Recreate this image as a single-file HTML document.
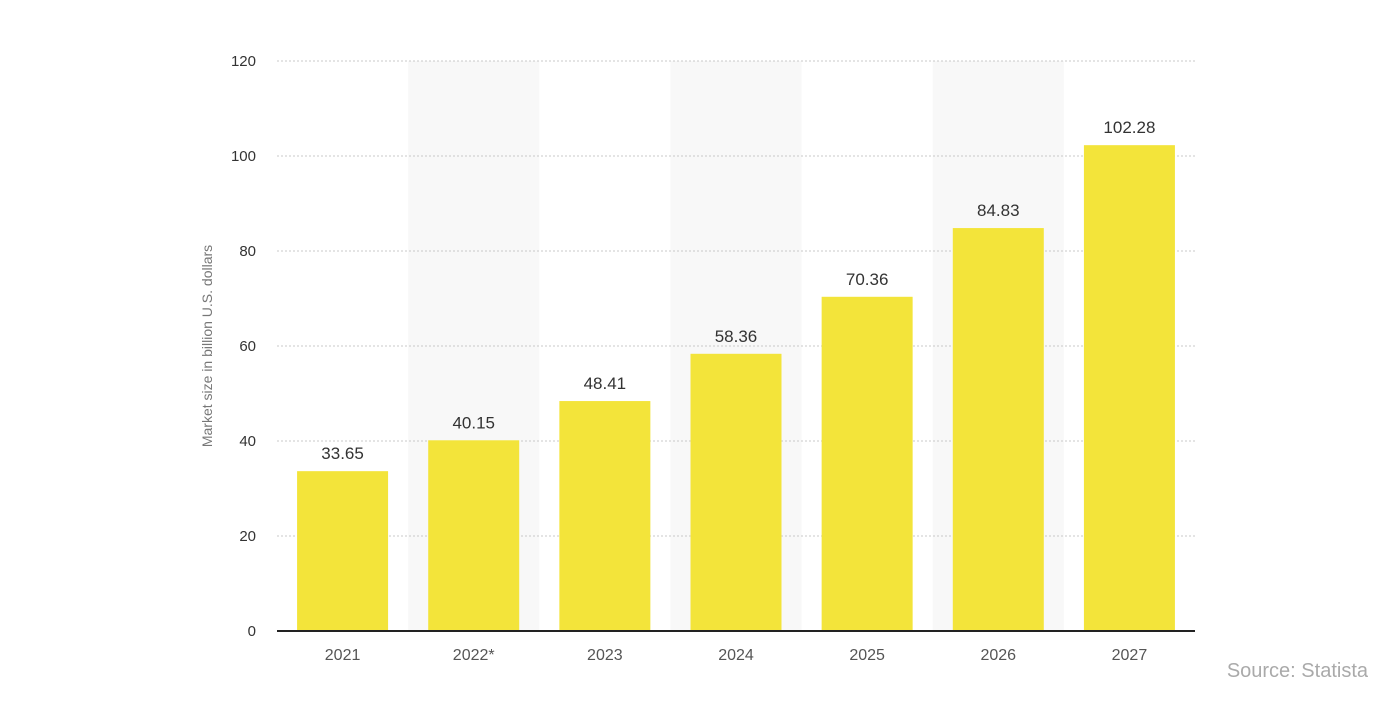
<!DOCTYPE html>
<html><head><meta charset="utf-8"><style>
body{margin:0;width:1400px;height:700px;background:#fff;overflow:hidden;font-family:"Liberation Sans",sans-serif}
</style></head><body>
<svg id="chart" width="1400" height="700" xmlns="http://www.w3.org/2000/svg">
<g id="bands"></g><g id="grid"></g><g id="bars"></g><g id="labels"></g>
<text transform="translate(212,346) rotate(-90)" text-anchor="middle" font-size="14" fill="#777">Market size in billion U.S. dollars</text>
<text x="1368" y="677" text-anchor="end" font-size="20" fill="#aaa">Source: Statista</text>
</svg>
<script>
const categories=["2021","2022*","2023","2024","2025","2026","2027"];
const values=[33.65,40.15,48.41,58.36,70.36,84.83,102.28];
const valueLabels=["33.65","40.15","48.41","58.36","70.36","84.83","102.28"];
const yTicks=[0,20,40,60,80,100,120];
const NS="http://www.w3.org/2000/svg";
const x0=277,x1=1195,yb=631,yt=61,ymax=120;
const band=(x1-x0)/categories.length;
const y=v=>yb-(v/ymax)*(yb-yt);
const xc=i=>x0+band*(i+0.5);
function mk(tag,attrs,parent,txt){const e=document.createElementNS(NS,tag);for(const k in attrs)e.setAttribute(k,attrs[k]);if(txt!==undefined)e.textContent=txt;document.getElementById(parent).appendChild(e);return e;}
categories.forEach((c,i)=>{if(i%2===1){const r=mk('rect',{x:x0+band*i,y:yt,width:band,height:yb-yt,fill:'#f8f8f8'},'bands');

}});
yTicks.forEach(t=>{const l=mk('line',{x1:x0,x2:x1,y1:y(t),y2:y(t),stroke:'#c8c8c8','stroke-dasharray':'2,2'},'grid');


const tx=mk('text',{x:256,y:y(t)+5,'text-anchor':'end','font-size':15,fill:'#333'},'grid',String(t));

});
const bw=91;
categories.forEach((c,i)=>{const b=mk('rect',{x:xc(i)-bw/2,y:y(values[i]),width:bw,height:yb-y(values[i]),fill:'#f3e43a'},'bars');


const v=mk('text',{x:xc(i),y:y(values[i])-12,'text-anchor':'middle','font-size':17,fill:'#333'},'labels',valueLabels[i]);


const xl=mk('text',{x:xc(i),y:660,'text-anchor':'middle','font-size':16,fill:'#555'},'labels',c);

});
const ax=mk('line',{x1:x0,x2:x1,y1:yb,y2:yb,stroke:'#222','stroke-width':2},'labels');


</script>
</body></html>
